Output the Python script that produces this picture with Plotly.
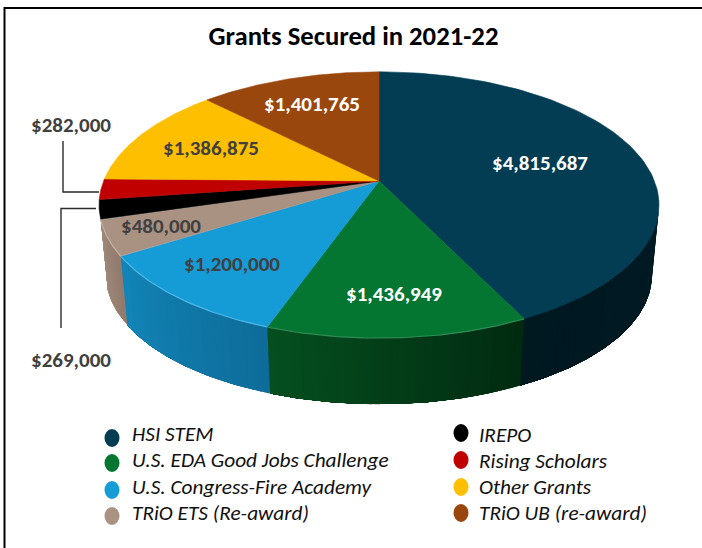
import numpy as np
import plotly.graph_objects as go

# Grant totals, drawn clockwise from twelve o'clock
grants = ["HSI STEM", "U.S. EDA Good Jobs Challenge", "U.S. Congress-Fire Academy",
          "TRiO ETS (Re-award)", "IREPO", "Rising Scholars", "Other Grants", "TRiO UB (re-award)"]
amounts = [4815687, 1436949, 1200000, 480000, 269000, 282000, 1386875, 1401765]
top_colors = ["#033d53", "#047632", "#159bd6", "#aa9283", "#000000", "#c00000", "#fdbf00", "#9a470d"]

# Side wall shading per slice: colour at the left end and right end of the wall
wall_left = ["#001820", "#054f20", "#1285b8", "#a08a7c"]
wall_right = ["#001a24", "#012a10", "#0e6c99", "#917a6c"]

# Tilted-disc projection of the pie, in page pixels
CX, TOP_Y, BOTTOM_Y = 379.0, 181.0, 252.0
TOP_B, TOP_A, BOTTOM_B, BOTTOM_A = 275.4, 128.8, 268.5, 124.8
PERSPECTIVE = 0.18


def project(theta, cy, b, a):
    """Clockwise angle from twelve o'clock (radians) to page coordinates."""
    u, v = np.sin(theta), -np.cos(theta)
    s = 1.0 / (1.0 - PERSPECTIVE * v)
    return CX + b * u * s, cy + a * v * s


def hex_rgb(c):
    return np.array([int(c[i:i + 2], 16) for i in (1, 3, 5)], dtype=float)


def blend(c0, c1, f):
    r, g, b = hex_rgb(c0) * (1 - f) + hex_rgb(c1) * f
    return f"rgb({r:.0f},{g:.0f},{b:.0f})"


edges = np.radians(np.concatenate([[0.0], np.cumsum(amounts)]) / sum(amounts) * 360.0)
# The disc silhouette on the right, where the wall starts to be visible
wall_start = np.pi - np.arccos(PERSPECTIVE)

fig = go.Figure()


def polygon(xs, ys, color, line_width=0.6):
    fig.add_trace(go.Scatter(x=xs, y=ys, mode="lines", fill="toself", fillcolor=color,
                             line=dict(color=color, width=line_width), hoverinfo="skip", showlegend=False))


# Side walls, as overlapping strips so the shading runs along the rim without seams.
# Each strip reaches from its own start to the slice end and is painted over by the next.
for i in range(4):
    t0, t1 = max(edges[i], wall_start), edges[i + 1]
    n = max(2, int(np.degrees(t1 - t0) / 1.5))
    bounds = np.linspace(t0, t1, n + 1)
    for k in range(n):
        th = np.linspace(bounds[k], t1, 2 + 3 * (n - k))
        xt, yt = project(th, TOP_Y, TOP_B, TOP_A)
        xb, yb = project(th[::-1], BOTTOM_Y, BOTTOM_B, BOTTOM_A)
        # Shade runs clockwise, which is right-to-left across the front of the pie
        f = 1 - (k + 0.5) / n
        polygon(np.r_[xt, xb, xt[0]], np.r_[yt, yb, yt[0]], blend(wall_left[i], wall_right[i], f), 0)

# Top face of each slice
for i, color in enumerate(top_colors):
    th = np.linspace(edges[i], edges[i + 1], 90)
    x, y = project(th, TOP_Y, TOP_B, TOP_A)
    polygon(np.r_[CX, x, CX], np.r_[TOP_Y, y, TOP_Y], color)

# Thin light bevel along the front rim of the blue and green slices
for i, color in [(1, "#2f8a54"), (2, "#4db8e6"), (3, "#c4b0a3")]:
    th = np.linspace(edges[i], edges[i + 1], 60)
    x, y = project(th, TOP_Y, TOP_B, TOP_A)
    fig.add_trace(go.Scatter(x=x, y=y, mode="lines", line=dict(color=color, width=1.2),
                             hoverinfo="skip", showlegend=False))

# Value labels
label_text = ["$4,815,687", "$1,436,949", "$1,200,000", "$480,000",
              "$269,000", "$282,000", "$1,386,875", "$1,401,765"]
label_x = [540, 394, 232, 161, 71, 71, 211, 312]
label_y = [165, 296, 266, 228, 362, 127, 150, 106]
label_color = ["#ffffff", "#ffffff", "#404040", "#404040", "#404040", "#404040", "#404040", "#ffffff"]
LABEL_FONT = "Carlito, Calibri, Lato, sans-serif"
fig.add_trace(go.Scatter(x=label_x, y=label_y, mode="text", text=label_text, textposition="middle center",
                         textfont=dict(family=LABEL_FONT, size=21, color=label_color, weight=700),
                         hoverinfo="skip", showlegend=False))

# Leader lines for the two thin slices
fig.add_trace(go.Scatter(x=[63, 63, 99], y=[141, 192, 192], mode="lines",
                         line=dict(color="#2b2b2b", width=1.4), hoverinfo="skip", showlegend=False))
fig.add_trace(go.Scatter(x=[61, 61, 96], y=[328, 208.5, 208.5], mode="lines",
                         line=dict(color="#2b2b2b", width=1.4), hoverinfo="skip", showlegend=False))

# Frame on the top and left edges only
fig.add_trace(go.Scatter(x=[4.5, 4.5, 702], y=[548, 8, 8], mode="lines",
                         line=dict(color="#000000", width=2), hoverinfo="skip", showlegend=False))

# Two-column key
key_x = [112, 112, 112, 112, 461, 461, 461, 461]
key_y = [438, 463, 490, 516, 433, 460, 487, 513]
key_text_x = [132, 132, 132, 132, 479, 479, 479, 479]
key_text_y = [436, 462, 489, 515, 437, 463, 489, 515]
shapes = [dict(type="circle", xref="x", yref="y", x0=x - 7.5, x1=x + 7.5, y0=y - 9, y1=y + 9,
               fillcolor=c, line=dict(width=0))
          for x, y, c in zip(key_x, key_y, top_colors)]
fig.add_trace(go.Scatter(x=key_text_x, y=key_text_y, mode="text", text=grants, textposition="middle right",
                         textfont=dict(family=LABEL_FONT, size=21.3, color="#111111", style="italic"),
                         hoverinfo="skip", showlegend=False))

fig.add_trace(go.Scatter(x=[353.5], y=[38.5], mode="text", text=["Grants Secured in 2021-22"],
                         textposition="middle center",
                         textfont=dict(family=LABEL_FONT, size=26.7, color="#000000", weight=700),
                         hoverinfo="skip", showlegend=False))

fig.update_layout(
    width=702, height=548, margin=dict(l=0, r=0, t=0, b=0),
    paper_bgcolor="#ffffff", plot_bgcolor="#ffffff", showlegend=False, shapes=shapes,
    xaxis=dict(range=[0, 702], visible=False, fixedrange=True),
    yaxis=dict(range=[548, 0], visible=False, fixedrange=True),
)
fig.write_html("out.html", config=dict(displayModeBar=False))
